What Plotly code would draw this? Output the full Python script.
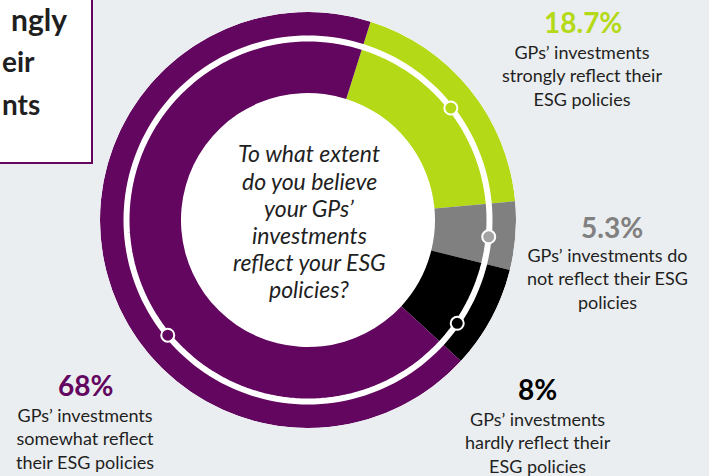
import plotly.graph_objects as go

W, H = 709, 476

# ---- data ----
categories = [
    "GPs’ investments strongly reflect their ESG policies",
    "GPs’ investments do not reflect their ESG policies",
    "GPs’ investments hardly reflect their ESG policies",
    "GPs’ investments somewhat reflect their ESG policies",
]
values = [18.7, 5.3, 8.0, 68.0]
pct_labels = ["18.7%", "5.3%", "8%", "68%"]
label_lines = [
    "GPs’ investments<br>strongly reflect their<br>ESG policies",
    "GPs’ investments do<br>not reflect their ESG<br>policies",
    "GPs’ investments<br>hardly reflect their<br>ESG policies",
    "GPs’ investments<br>somewhat reflect<br>their ESG policies",
]
marker_theta = [51.9, 95.3, 124.7, 230.6]   # dots on the white ring (deg, clockwise from top)
question_lines = ["To what extent", "do you believe", "your GPs’", "investments",
                  "reflect your ESG", "policies?"]
title_fragments = ["ngly", "eir", "nts"]   # visible ends of the cropped title box

colors = ["#b4d917", "#808080", "#000000", "#63065f"]
dot_colors = ["#b4d917", "#a3a3a3", "#000000", "#63065f"]
pct_colors = ["#b4d917", "#808080", "#000000", "#63065f"]
BG = "#ebeef0"
TXT = "#1f1f1f"

START = 17.5          # start angle of first slice
INNER = 127 / 208     # inner radius fraction
RING = 181.5 / 208    # white ring radius

# angular positions from the values
theta_mid, widths = [], []
acc = START
for v in values:
    w = v * 3.6
    theta_mid.append(acc + w / 2)
    widths.append(w)
    acc += w


def px(x):
    return x / W


def py(y):
    return 1 - y / H


fig = go.Figure()
fig.add_trace(go.Barpolar(
    theta=theta_mid, width=widths, r=[1 - INNER] * 4, base=[INNER] * 4,
    marker=dict(color=colors, line=dict(width=0)),
    hoverinfo="text", hovertext=categories, showlegend=False,
))
ring_t = [i for i in range(0, 361, 2)]
fig.add_trace(go.Scatterpolar(
    theta=ring_t, r=[RING] * len(ring_t), mode="lines",
    line=dict(color="white", width=6), hoverinfo="skip", showlegend=False,
))
fig.add_trace(go.Scatterpolar(
    theta=marker_theta, r=[RING] * 4, mode="markers",
    marker=dict(size=13, color=dot_colors, line=dict(color="white", width=2)),
    hoverinfo="skip", showlegend=False,
))

fig.update_layout(
    width=W, height=H,
    margin=dict(l=0, r=0, t=0, b=0),
    paper_bgcolor=BG, plot_bgcolor=BG,
    showlegend=False,
    polar=dict(
        domain=dict(x=[px(100), px(516)], y=[py(428), py(12)]),
        bgcolor="white",
        hole=0,
        radialaxis=dict(visible=False, range=[0, 1]),
        angularaxis=dict(visible=False, rotation=90, direction="clockwise",
                         showgrid=False, showline=False, showticklabels=False),
    ),
    font=dict(family="Lato", color=TXT),
)

# top-left box (cropped at the image edge)
fig.add_shape(type="rect", xref="paper", yref="paper",
              x0=px(-10), x1=px(92), y0=py(163), y1=py(-10),
              fillcolor="white", line=dict(color="#63065f", width=2), layer="below")
title_specs = [(19, px(69), "right", 30), (61, 0, "left", 28), (104, 0, "left", 28)]
for word, (yc, xx, anc, sz) in zip(title_fragments, title_specs):
    fig.add_annotation(x=xx, y=py(yc), xref="paper", yref="paper",
                       xanchor=anc, yanchor="middle", showarrow=False,
                       text="<b>" + word + "</b>",
                       font=dict(family="Lato", size=sz, color=TXT))

# center question
for line, yc in zip(question_lines, [153, 181, 208, 235, 262, 289]):
    fig.add_annotation(x=px(309), y=py(yc), xref="paper", yref="paper",
                       xanchor="center", yanchor="middle", showarrow=False,
                       text="<i>" + line + "</i>",
                       font=dict(family="Lato", size=23, color=TXT))

# labels
pct_pos = [(583, 22), (612, 227), (537, 389), (85, 385)]
lab_pos = [(582, 75), (607, 278), (538, 442), (85, 438)]
for i in range(4):
    fig.add_annotation(x=px(pct_pos[i][0]), y=py(pct_pos[i][1]), xref="paper", yref="paper",
                       xanchor="center", yanchor="middle", showarrow=False,
                       text="<b>" + pct_labels[i] + "</b>",
                       font=dict(family="Lato", size=28, color=pct_colors[i]))
    fig.add_annotation(x=px(lab_pos[i][0]), y=py(lab_pos[i][1]), xref="paper", yref="paper",
                       xanchor="center", yanchor="middle", showarrow=False, align="center",
                       text=label_lines[i],
                       font=dict(family="Lato", size=18, color=TXT))

fig.write_html("out.html",
               config={"displayModeBar": False},
               post_script="document.body.style.margin='0';document.body.style.overflow='hidden';")
